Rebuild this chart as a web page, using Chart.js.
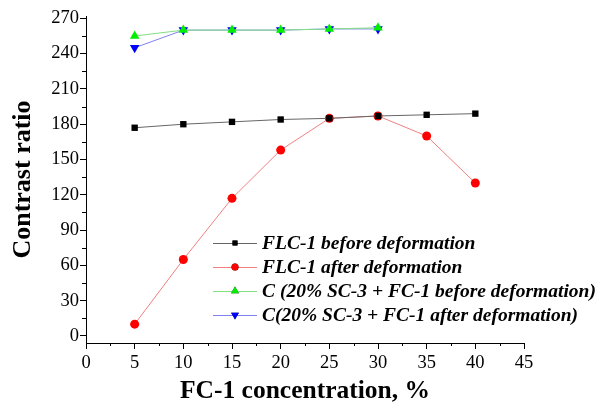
<!DOCTYPE html>
<html>
<head>
<meta charset="utf-8">
<script src="https://cdn.jsdelivr.net/npm/chart.js@4"></script>
<style>
  html, body { margin: 0; padding: 0; background: #fff; }
  #wrap { width: 603px; height: 407px; }
</style>
</head>
<body>
<div id="wrap"><canvas id="chart" width="603" height="407"></canvas></div>
<script>
const concentration = [5, 10, 15, 20, 25, 30, 35, 40];
const flcBefore = [177, 180, 182, 184, 185, 187, 188, 189];
const flcAfter = [10, 65, 117, 158, 185, 187, 170, 130];
const cBefore = [255, 260, 260, 260, 261, 262];
const cAfter = [245, 260, 260, 260, 261, 261];

const xTicks = [0, 5, 10, 15, 20, 25, 30, 35, 40, 45];
const yTicks = [0, 30, 60, 90, 120, 150, 180, 210, 240, 270];

const serif = "'Liberation Serif', 'Times New Roman', serif";

function points(xs, ys) {
  return ys.map((y, i) => ({ x: xs[i], y: y }));
}

const series = [
  { label: "FLC-1 before deformation", data: points(concentration, flcBefore), line: "#666666", fill: "#000000", style: "rect", r: 4.5 },
  { label: "FLC-1 after deformation", data: points(concentration, flcAfter), line: "#f08080", fill: "#ff0000", style: "circle", r: 4.5 },
  { label: "C (20% SC-3 + FC-1 before deformation)", data: points(concentration, cBefore), line: "#80e080", fill: "#00ee00", style: "triangle", r: 5.5 },
  { label: "C(20% SC-3 + FC-1 after deformation)", data: points(concentration, cAfter), line: "#8080f0", fill: "#0000ff", style: "triangle", r: 5.5, rot: 180 }
];

// minor ticks between the labelled ones
const minorTicks = {
  id: "minorTicks",
  afterDraw(chart) {
    const ctx = chart.ctx;
    const xs = chart.scales.x, ys = chart.scales.y;
    ctx.save();
    ctx.strokeStyle = "#000";
    ctx.lineWidth = 1;
    ctx.beginPath();
    for (let v = 2.5; v < 45; v += 5) {
      const px = Math.round(xs.getPixelForValue(v)) + 0.5;
      ctx.moveTo(px, ys.bottom);
      ctx.lineTo(px, ys.bottom + 3);
    }
    for (let v = 15; v < 270; v += 30) {
      const py = Math.round(ys.getPixelForValue(v)) + 0.5;
      ctx.moveTo(xs.left, py);
      ctx.lineTo(xs.left - 4, py);
    }
    ctx.stroke();
    ctx.restore();
  }
};

// legend drawn inside the plot area, lower right
const innerLegend = {
  id: "innerLegend",
  afterDraw(chart) {
    const ctx = chart.ctx;
    const area = chart.chartArea;
    const x0 = area.left + 127;
    let y = area.top + 227;
    ctx.save();
    ctx.font = "italic bold 19.5px " + serif;
    ctx.textBaseline = "middle";
    series.forEach((s) => {
      ctx.strokeStyle = s.line;
      ctx.lineWidth = 1;
      ctx.beginPath();
      ctx.moveTo(x0, y + 0.5);
      ctx.lineTo(x0 + 44, y + 0.5);
      ctx.stroke();
      Chart.helpers.drawPoint(ctx, { pointStyle: s.style, radius: s.r - 1, rotation: s.rot || 0, borderWidth: 0 }, x0 + 22, y);
      ctx.fillStyle = s.fill;
      ctx.fill();
      ctx.fillStyle = "#000";
      ctx.fillText(s.label, x0 + 49, y + 1);
      y += 24;
    });
    ctx.restore();
  }
};

new Chart(document.getElementById("chart"), {
  type: "line",
  data: {
    datasets: series.map((s) => ({
      label: s.label,
      data: s.data,
      borderColor: s.line,
      borderWidth: 1,
      backgroundColor: s.fill,
      pointBackgroundColor: s.fill,
      pointBorderColor: s.fill,
      pointBorderWidth: 0,
      pointStyle: s.style,
      pointRadius: s.r,
      pointRotation: s.rot || 0,
      tension: 0,
      fill: false
    }))
  },
  options: {
    responsive: false,
    animation: false,
    layout: { padding: { top: 16, right: 79, left: 0, bottom: 0 } },
    plugins: { legend: { display: false }, tooltip: { enabled: false } },
    scales: {
      x: {
        type: "linear",
        min: 0,
        max: 45,
        afterBuildTicks: (axis) => { axis.ticks = xTicks.map((v) => ({ value: v })); },
        afterFit: (axis) => { axis.height = 64; },
        border: { color: "#000", width: 1 },
        grid: { drawOnChartArea: false, color: "#000", tickLength: 6 },
        ticks: { color: "#000", font: { family: serif, size: 18.5 }, padding: 3, maxRotation: 0 },
        title: { display: true, text: "FC-1 concentration, %", color: "#000", font: { family: serif, size: 25.5, weight: "bold" }, padding: { top: 4, bottom: 0 } }
      },
      y: {
        type: "linear",
        min: -6,
        max: 272,
        afterBuildTicks: (axis) => { axis.ticks = yTicks.map((v) => ({ value: v })); },
        afterFit: (axis) => { axis.width = 86; },
        border: { color: "#000", width: 1 },
        grid: { drawOnChartArea: false, color: "#000", tickLength: 6 },
        ticks: { color: "#000", font: { family: serif, size: 18.5 }, padding: 1 },
        title: { display: true, text: "Contrast ratio", color: "#000", font: { family: serif, size: 26, weight: "bold" }, padding: { top: 8, bottom: 2 } }
      }
    }
  },
  plugins: [minorTicks, innerLegend]
});
</script>
</body>
</html>
